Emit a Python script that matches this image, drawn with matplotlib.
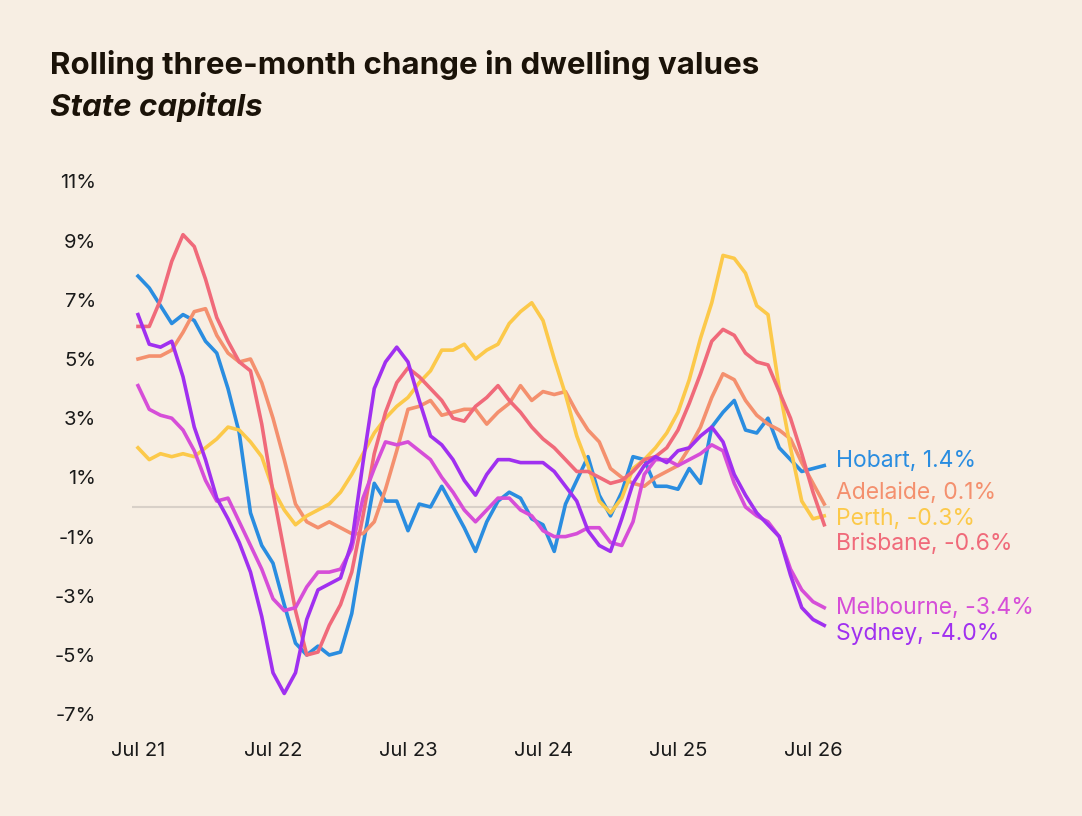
import matplotlib
matplotlib.use('Agg')
import matplotlib.pyplot as plt

# monthly values, Jul 21 .. Aug 26
hobart = [7.8, 7.4, 6.8, 6.2, 6.5, 6.3, 5.6, 5.2, 4.0, 2.5, -0.2, -1.3, -1.9, -3.3, -4.6, -5.0,
          -4.7, -5.0, -4.9, -3.6, -1.3, 0.8, 0.2, 0.2, -0.8, 0.1, 0.0, 0.7, 0.0, -0.7, -1.5, -0.5,
          0.2, 0.5, 0.3, -0.4, -0.6, -1.5, 0.1, 0.9, 1.7, 0.4, -0.3, 0.5, 1.7, 1.6, 0.7, 0.7,
          0.6, 1.3, 0.8, 2.7, 3.2, 3.6, 2.6, 2.5, 3.0, 2.0, 1.6, 1.2, 1.3, 1.4]
sydney = [6.5, 5.5, 5.4, 5.6, 4.4, 2.7, 1.6, 0.3, -0.4, -1.2, -2.2, -3.7, -5.6, -6.3, -5.6, -3.8,
          -2.8, -2.6, -2.4, -1.2, 1.5, 4.0, 4.9, 5.4, 4.9, 3.6, 2.4, 2.1, 1.6, 0.9, 0.4, 1.1,
          1.6, 1.6, 1.5, 1.5, 1.5, 1.2, 0.7, 0.2, -0.8, -1.3, -1.5, -0.4, 0.8, 1.4, 1.7, 1.5,
          1.9, 2.0, 2.4, 2.7, 2.2, 1.1, 0.4, -0.2, -0.6, -1.0, -2.3, -3.4, -3.8, -4.0]
melbourne = [4.1, 3.3, 3.1, 3.0, 2.6, 1.9, 0.9, 0.2, 0.3, -0.5, -1.3, -2.1, -3.1, -3.5, -3.4, -2.7,
             -2.2, -2.2, -2.1, -1.4, 0.3, 1.3, 2.2, 2.1, 2.2, 1.9, 1.6, 1.0, 0.5, -0.1, -0.5, -0.1,
             0.3, 0.3, -0.1, -0.3, -0.8, -1.0, -1.0, -0.9, -0.7, -0.7, -1.2, -1.3, -0.5, 1.1, 1.6, 1.6,
             1.4, 1.6, 1.8, 2.1, 1.9, 0.8, 0.0, -0.3, -0.5, -1.0, -2.1, -2.8, -3.2, -3.4]
brisbane = [6.1, 6.1, 7.0, 8.3, 9.2, 8.8, 7.7, 6.4, 5.6, 4.9, 4.6, 2.8, 0.5, -1.5, -3.5, -5.0,
            -4.9, -4.0, -3.3, -2.2, -0.3, 1.8, 3.2, 4.2, 4.7, 4.4, 4.0, 3.6, 3.0, 2.9, 3.4, 3.7,
            4.1, 3.6, 3.2, 2.7, 2.3, 2.0, 1.6, 1.2, 1.2, 1.0, 0.8, 0.9, 1.2, 1.6, 1.7, 2.0,
            2.6, 3.5, 4.5, 5.6, 6.0, 5.8, 5.2, 4.9, 4.8, 3.9, 3.0, 1.8, 0.5, -0.6]
adelaide = [5.0, 5.1, 5.1, 5.3, 5.9, 6.6, 6.7, 5.8, 5.2, 4.9, 5.0, 4.2, 3.0, 1.6, 0.1, -0.5,
            -0.7, -0.5, -0.7, -0.9, -0.9, -0.5, 0.6, 1.9, 3.3, 3.4, 3.6, 3.1, 3.2, 3.3, 3.3, 2.8,
            3.2, 3.5, 4.1, 3.6, 3.9, 3.8, 3.9, 3.2, 2.6, 2.2, 1.3, 1.0, 0.8, 0.7, 1.0, 1.2,
            1.4, 2.0, 2.7, 3.7, 4.5, 4.3, 3.6, 3.1, 2.8, 2.6, 2.3, 1.5, 0.8, 0.1]
perth = [2.0, 1.6, 1.8, 1.7, 1.8, 1.7, 2.0, 2.3, 2.7, 2.6, 2.2, 1.7, 0.6, -0.1, -0.6, -0.3,
         -0.1, 0.1, 0.5, 1.1, 1.8, 2.5, 3.0, 3.4, 3.7, 4.2, 4.6, 5.3, 5.3, 5.5, 5.0, 5.3,
         5.5, 6.2, 6.6, 6.9, 6.3, 5.0, 3.8, 2.4, 1.4, 0.2, -0.2, 0.3, 1.3, 1.6, 2.0, 2.5,
         3.2, 4.3, 5.7, 6.9, 8.5, 8.4, 7.9, 6.8, 6.5, 4.0, 2.0, 0.2, -0.4, -0.3]

tick_pos = [0, 12, 24, 36, 48, 60]
tick_labels = ['Jul 21', 'Jul 22', 'Jul 23', 'Jul 24', 'Jul 25', 'Jul 26']
yticks = [-7, -5, -3, -1, 1, 3, 5, 7, 9, 11]

series = [
    ('Hobart', hobart, '#2a8de0', 461),
    ('Adelaide', adelaide, '#f4906e', 493),
    ('Perth', perth, '#fcc94a', 519),
    ('Brisbane', brisbane, '#f06a7a', 544),
    ('Melbourne', melbourne, '#d64ed8', 608),
    ('Sydney', sydney, '#a030f0', 634),
]

bg = '#f7eee3'
plt.rcParams['font.family'] = ['Inter', 'DejaVu Sans']
W, H = 1082, 816
fig = plt.figure(figsize=(W / 100, H / 100), dpi=100, facecolor=bg)
ax = fig.add_axes([132 / W, 1 - 725 / H, 698 / W, 555 / H])
ax.set_facecolor(bg)
ax.set_xlim((132 - 138) / 11.25, (830 - 138) / 11.25)
ax.set_ylim((507 - 725) / 29.6, (507 - 170) / 29.6)
ax.axhline(0, color='#d8d0c8', lw=1.5, zorder=1)

for name, vals, col, ly in series:
    ax.plot(range(len(vals)), vals, color=col, lw=2.6, zorder=3)
    fig.text(836 / W, 1 - ly / H, f'{name}, {vals[-1]:.1f}%', color=col,
             fontsize=16.5, va='center', ha='left')

for s in ax.spines.values():
    s.set_visible(False)
ax.set_xticks(tick_pos)
ax.set_xticklabels(tick_labels)
ax.set_yticks(yticks)
ax.set_yticklabels([f'{v}%' for v in yticks])
ax.tick_params(length=0, labelsize=14.5, colors='#1a1a1a', pad=26)
ax.tick_params(axis='x', pad=12)

fig.text(50 / W, 1 - 65 / H, 'Rolling three-month change in dwelling values',
         fontsize=22.5, fontweight='bold', color='#1a1208', va='center')
fig.text(50 / W, 1 - 107 / H, 'State capitals', fontsize=22.5, fontweight='bold',
         style='italic', color='#1a1208', va='center')

fig.savefig('out.png', dpi=100, facecolor=bg)
